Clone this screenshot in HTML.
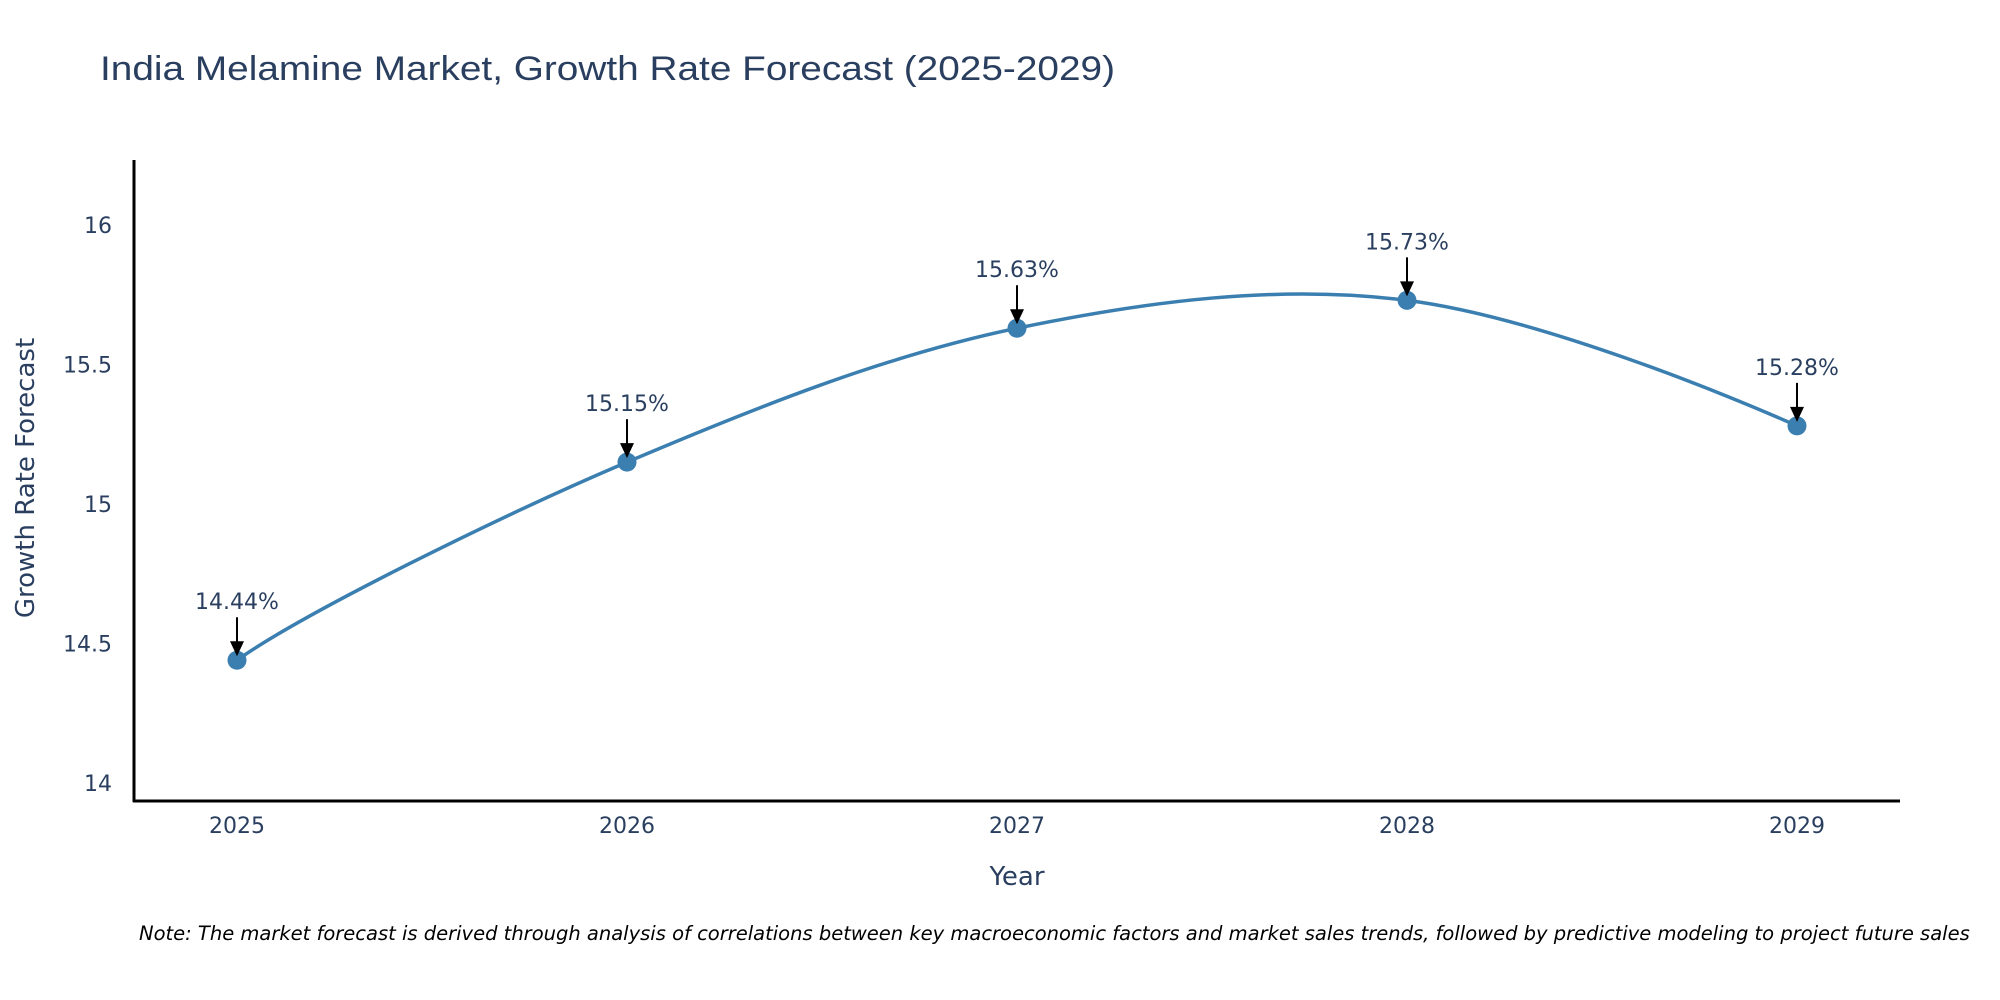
<!DOCTYPE html>
<html><head><meta charset="utf-8"><style>
html,body{margin:0;padding:0;background:#fff;}
svg{display:block;}
text{font-family:"DejaVu Sans","Liberation Sans",sans-serif;fill:#2a3f5f;}
</style></head><body>
<svg id="chart" width="2000" height="1000" viewBox="0 0 2000 1000" xmlns="http://www.w3.org/2000/svg">
<text x="100" y="80" font-size="34" textLength="1015" lengthAdjust="spacingAndGlyphs" style="font-family:'Liberation Sans',sans-serif">India Melamine Market, Growth Rate Forecast (2025-2029)</text>
<g id="yticks"></g>
<g id="xticks"></g>
<line x1="134" y1="160" x2="134" y2="802" stroke="#000" stroke-width="3"/>
<line x1="133" y1="801" x2="1900" y2="801" stroke="#000" stroke-width="3"/>
<text transform="translate(34,478) rotate(-90)" text-anchor="middle" font-size="26">Growth Rate Forecast</text>
<text x="1017" y="885" text-anchor="middle" font-size="26">Year</text>
<path id="line" fill="none" stroke="#3b7fb1" stroke-width="3.5"/>
<g id="points"></g>
<g id="annots"></g>
<text x="139" y="940" font-size="19.5" font-style="italic" fill="#000" style="fill:#000">Note: The market forecast is derived through analysis of correlations between key macroeconomic factors and market sales trends, followed by predictive modeling to project future sales</text>
</svg>
<script>
const years = ["2025","2026","2027","2028","2029"];
const values = [14.44, 15.15, 15.63, 15.73, 15.28];
const labels = ["14.44%","15.15%","15.63%","15.73%","15.28%"];
const yTickValues = [14, 14.5, 15, 15.5, 16];
const yTickLabels = ["14","14.5","15","15.5","16"];

const NS = "http://www.w3.org/2000/svg";
function xScale(i){ return 237 + i * 390; }
function yScale(v){ return 783 - (v - 14) * 279; }
function mk(tag, attrs, parent){
  const e = document.createElementNS(NS, tag);
  for (const k in attrs) e.setAttribute(k, attrs[k]);
  parent.appendChild(e);
  return e;
}
const yt = document.getElementById('yticks');
yTickValues.forEach((v, i) => {
  const t = mk('text', {x: 112, y: yScale(v) + 8, 'text-anchor': 'end', 'font-size': 22}, yt);
  
  
  t.textContent = yTickLabels[i];
});
const xt = document.getElementById('xticks');
years.forEach((y, i) => {
  const t = mk('text', {x: xScale(i), y: 833, 'text-anchor': 'middle', 'font-size': 22}, xt);
  
  
  t.textContent = y;
});
const pts = values.map((v, i) => [xScale(i), yScale(v)]);
// smooth spline (catmull-rom style)
let d = "M" + pts[0][0] + "," + pts[0][1];
const s = 0.5;
for (let i = 0; i < pts.length - 1; i++) {
  const p0 = pts[i - 1] || pts[i], p1 = pts[i], p2 = pts[i + 1], p3 = pts[i + 2] || pts[i + 1];
  const c1 = [p1[0] + (p2[0] - p0[0]) * s / 3 * (i === 0 ? 1 : 1), p1[1] + (p2[1] - p0[1]) * s / 3 * (i === 0 ? 1.4 : 1)];
  const c2 = [p2[0] - (p3[0] - p1[0]) * s / 3, p2[1] - (p3[1] - p1[1]) * s / 3 * (i === pts.length - 2 ? 1.4 : 1)];
  d += " C" + c1[0] + "," + c1[1] + " " + c2[0] + "," + c2[1] + " " + p2[0] + "," + p2[1];
}
document.getElementById('line').setAttribute('d', d);
const pg = document.getElementById('points');
const ag = document.getElementById('annots');
pts.forEach((p, i) => {
  const c = mk('circle', {cx: p[0], cy: p[1], r: 9.5, fill: '#3b7fb1'}, pg);
  
  
  const l = mk('line', {x1: p[0], y1: p[1] - 43, x2: p[0], y2: p[1] - 16, stroke: '#000', 'stroke-width': 2}, ag);
  
  
  const h = mk('polygon', {points: (p[0]-7)+","+(p[1]-19)+" "+(p[0]+7)+","+(p[1]-19)+" "+p[0]+","+(p[1]-4), fill: '#000'}, ag);
  
  
  const t = mk('text', {x: p[0], y: p[1] - 51, 'text-anchor': 'middle', 'font-size': 22}, ag);
  
  
  t.textContent = labels[i];
});
</script>
</body></html>
